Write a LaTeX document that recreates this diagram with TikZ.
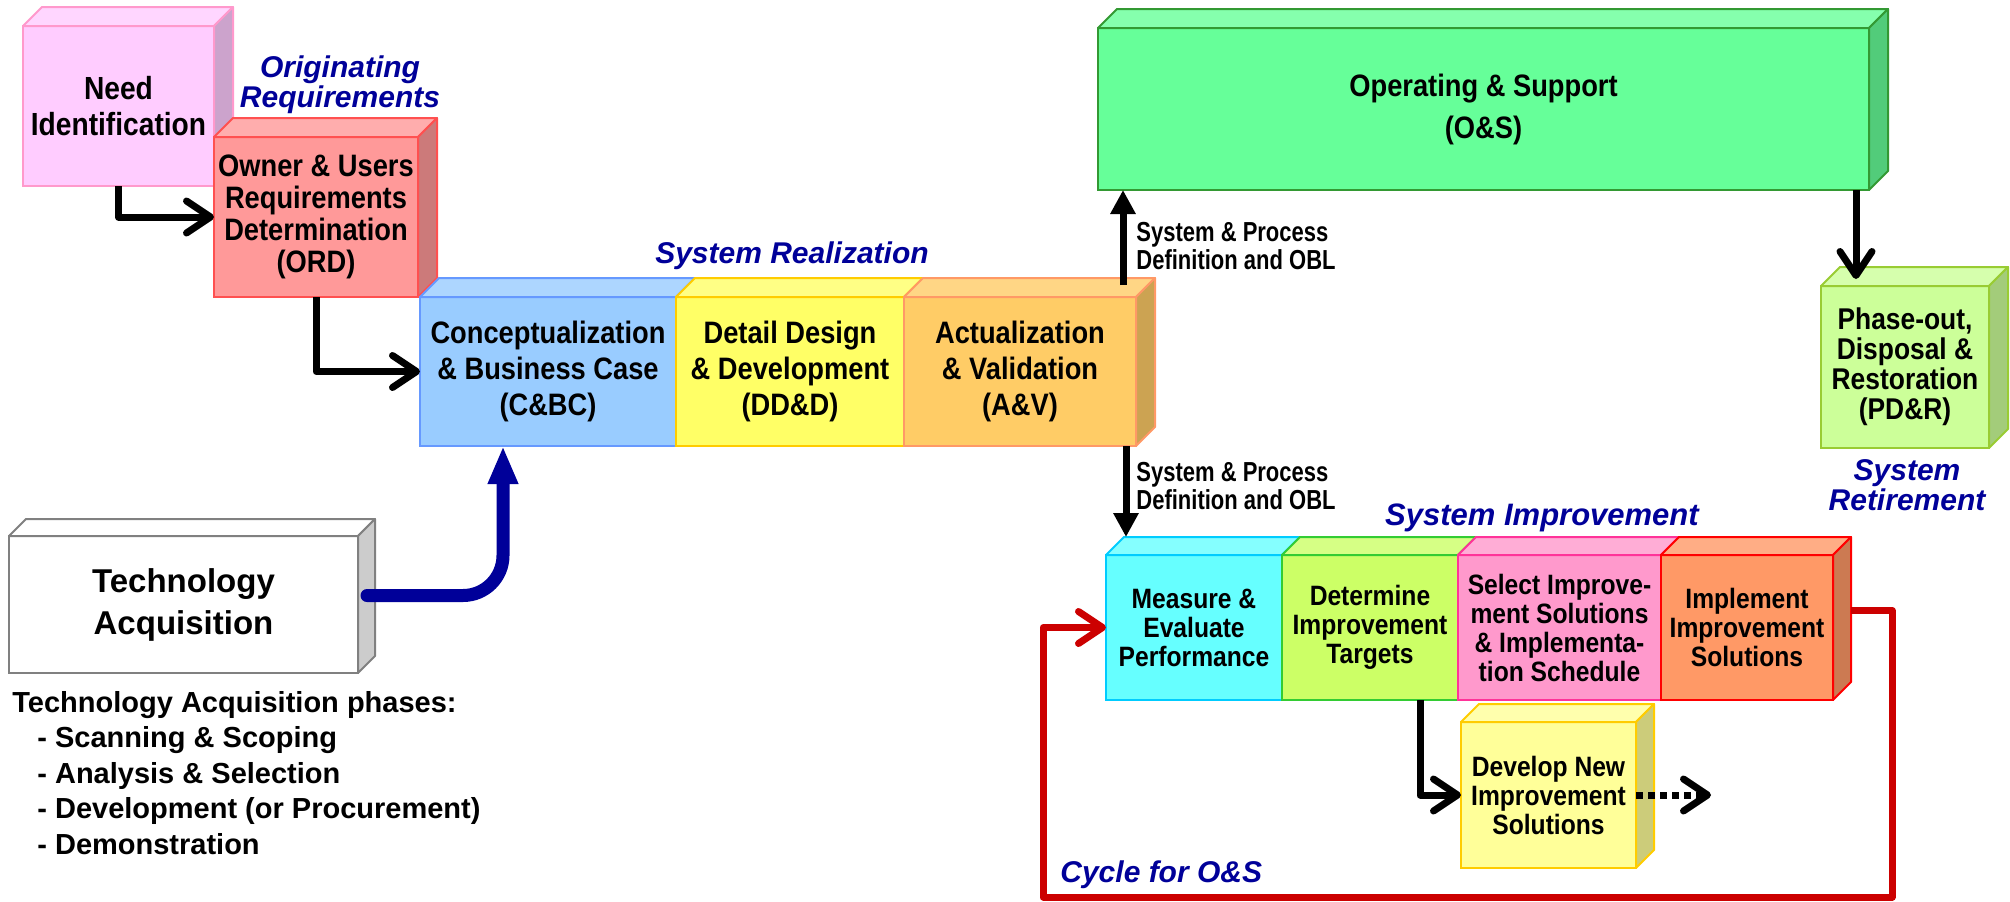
\documentclass[tikz,border=0pt]{standalone}
\usepackage{fontspec}
\setmainfont{Liberation Sans}
\newfontfamily\narrowfont[FakeStretch=0.88]{Liberation Sans}
\newfontfamily\tallfont[FakeStretch=0.8]{Liberation Sans}
\usetikzlibrary{positioning}
\usetikzlibrary{arrows.meta,calc}

\definecolor{needc}{HTML}{FFCCFF}\definecolor{needl}{HTML}{FF99CC}
\definecolor{ordc}{HTML}{FF9999}\definecolor{ordl}{HTML}{FF5050}
\definecolor{cbcc}{HTML}{99CCFF}\definecolor{cbcl}{HTML}{6699FF}
\definecolor{dddc}{HTML}{FFFF66}\definecolor{dddl}{HTML}{FFCC00}
\definecolor{avc}{HTML}{FFCC66}\definecolor{avl}{HTML}{FF9966}
\definecolor{osc}{HTML}{66FF99}\definecolor{osl}{HTML}{339933}
\definecolor{pdrc}{HTML}{CCFF99}\definecolor{pdrl}{HTML}{99CC33}
\definecolor{techc}{HTML}{FFFFFF}\definecolor{techl}{HTML}{808080}
\definecolor{mepc}{HTML}{66FFFF}\definecolor{mepl}{HTML}{00CCFF}
\definecolor{ditc}{HTML}{CCFF66}\definecolor{ditl}{HTML}{33CC33}
\definecolor{sisc}{HTML}{FF99CC}\definecolor{sisl}{HTML}{FF3399}
\definecolor{iisc}{HTML}{FF9966}\definecolor{iisl}{HTML}{FF0000}
\definecolor{dnisc}{HTML}{FFFF99}\definecolor{dnisl}{HTML}{FFCC00}
\definecolor{lblblue}{HTML}{000099}
\definecolor{loopred}{HTML}{CC0000}

% top and side face of a box node: [depth]{node}{fill}{line}
\newcommand\cubefaces[4][19]{%
  \draw[#4, line width=1pt, fill=#3!80!white, line join=round]
    (#2.north west) -- ++(#1,-#1) -- ([shift={(#1,-#1)}]#2.north east) -- (#2.north east) -- cycle;
  \draw[#4, line width=1pt, fill=#3!80!black, line join=round]
    (#2.north east) -- ++(#1,-#1) -- ([shift={(#1,-#1)}]#2.south east) -- (#2.south east) -- cycle;
}

\begin{document}
\begin{tikzpicture}[x=0.5pt,y=-0.5pt,
  cube/.style 2 args={draw=#1, fill=#2, line width=1pt, outer sep=0pt, inner sep=0pt, align=center},
  bigtxt/.style={font=\narrowfont\bfseries\fontsize{15.5}{18}\selectfont},
  smalltxt/.style={font=\narrowfont\bfseries\fontsize{14}{14.5}\selectfont},
  stagelbl/.style={text=lblblue, align=center, inner sep=0pt, font=\bfseries\itshape\fontsize{15}{15}\selectfont},
  flowlbl/.style={align=left, inner sep=0pt, font=\tallfont\bfseries\fontsize{13.75}{14}\selectfont},
  flow/.style={line width=3.5pt, line join=round, -{Straight Barb[length=12pt,width=16pt,round]}},
  feed/.style={line width=3.5pt, -{Triangle[length=12pt,width=12pt]}},
  techflow/.style={line width=6.5pt, draw=lblblue, line cap=round, rounded corners=20pt, -{Triangle[length=19pt,width=14pt]}},
  osloop/.style={line width=3.5pt, draw=loopred, line join=round, -{Straight Barb[length=12pt,width=16pt,round]}}]
\useasboundingbox (0,0) rectangle (2010,901);

% originating requirements
\node[cube={needl}{needc}, minimum width=95.5pt, minimum height=80pt, font=\narrowfont\bfseries\fontsize{16}{18}\selectfont] (need) at (118.5,106) {Need\\Identification};
\cubefaces{need}{needc}{needl}
\node[cube={ordl}{ordc}, minimum width=102pt, minimum height=80pt, font=\narrowfont\bfseries\fontsize{15.5}{16}\selectfont] (ord) at (316,217) {Owner \& Users\\Requirements\\Determination\\(ORD)};
\cubefaces{ord}{ordc}{ordl}

% system realization
\node[cube={cbcl}{cbcc}, minimum width=128pt, minimum height=74.5pt, bigtxt] (cbc) at (548,371.5) {Conceptualization\\\& Business Case\\(C\&BC)};
\cubefaces{cbc}{cbcc}{cbcl}
\node[cube={dddl}{dddc}, minimum width=114pt, minimum height=74.5pt, bigtxt, right=0pt of cbc] (ddd) {Detail Design\\\& Development\\(DD\&D)};
\cubefaces{ddd}{dddc}{dddl}
\node[cube={avl}{avc}, minimum width=116pt, minimum height=74.5pt, bigtxt, right=0pt of ddd] (av) {Actualization\\\& Validation\\(A\&V)};
\cubefaces{av}{avc}{avl}

% operation and retirement
\node[cube={osl}{osc}, minimum width=385.5pt, minimum height=81pt, font=\narrowfont\bfseries\fontsize{15.5}{21}\selectfont] (os) at (1483.5,109) {Operating \& Support\\(O\&S)};
\cubefaces{os}{osc}{osl}
\node[cube={pdrl}{pdrc}, minimum width=84pt, minimum height=81pt, font=\narrowfont\bfseries\fontsize{15}{15}\selectfont] (pdr) at (1905,367) {Phase-out,\\Disposal \&\\Restoration\\(PD\&R)};
\cubefaces{pdr}{pdrc}{pdrl}

% technology acquisition
\node[cube={techl}{techc}, minimum width=174.5pt, minimum height=68.5pt, font=\bfseries\fontsize{16.5}{21}\selectfont] (tech) at (183.5,604.5) {Technology\\Acquisition};
\cubefaces[17]{tech}{techc}{techl}

% system improvement
\node[cube={mepl}{mepc}, minimum width=88pt, minimum height=72.5pt, smalltxt] (mep) at (1194,627.5) {Measure \&\\Evaluate\\Performance};
\cubefaces[18]{mep}{mepc}{mepl}
\node[cube={ditl}{ditc}, minimum width=88pt, minimum height=72.5pt, smalltxt, right=0pt of mep] (dit) {Determine\\Improvement\\Targets};
\cubefaces[18]{dit}{ditc}{ditl}
\node[cube={sisl}{sisc}, minimum width=101.5pt, minimum height=72.5pt, smalltxt, right=0pt of dit] (sis) {Select Improve-\\ment Solutions\\\& Implementa-\\tion Schedule};
\cubefaces[18]{sis}{sisc}{sisl}
\node[cube={iisl}{iisc}, minimum width=86pt, minimum height=72.5pt, smalltxt, right=0pt of sis] (iis) {Implement\\Improvement\\Solutions};
\cubefaces[18]{iis}{iisc}{iisl}
\node[cube={dnisl}{dnisc}, minimum width=87.5pt, minimum height=73pt, smalltxt] (dnis) at (1548.5,795) {Develop New\\Improvement\\Solutions};
\cubefaces[18]{dnis}{dnisc}{dnisl}

% labels
\node[stagelbl] (origreq) at (340,85) {Originating\\Requirements};
\node[stagelbl] (sysreal) at (792,256) {System Realization};
\node[stagelbl, font=\bfseries\itshape\fontsize{15.5}{15.5}\selectfont] (sysimp) at (1542,518) {System Improvement};
\node[stagelbl] (sysret) at (1907,485) {System\\Retirement};
\node[stagelbl, anchor=west] (oscycle) at (1060,875) {Cycle for O\&S};
\node[anchor=north west, align=left, inner sep=0pt, font=\bfseries\fontsize{14.5}{17.75}\selectfont] (taphases) at (12,691)
  {Technology Acquisition phases:\\
   \hspace*{12.5pt}- Scanning \& Scoping\\
   \hspace*{12.5pt}- Analysis \& Selection\\
   \hspace*{12.5pt}- Development (or Procurement)\\
   \hspace*{12.5pt}- Demonstration};

% connectors
\draw[flow] (need.south) |- (ord.west);
\draw[flow] (ord.south) |- (cbc.west);
\draw[techflow] ($(tech.east)+(9,-9)$) -| ([xshift=-22.5pt]cbc.south);

\coordinate (avup) at ([shift={(-13,-12)}]av.north east);
\draw[feed] (avup) -- (avup |- os.south);
\node[flowlbl, anchor=west] (spdup) at (1136,246) {System \& Process\\Definition and OBL};

\coordinate (avdown) at ([shift={(-10,0)}]av.south east);
\coordinate (mtop) at ([shift={(18,-18)}]mep.north west);
\draw[feed] (avdown) -- (avdown |- mtop);
\node[flowlbl, anchor=west] (spddown) at (1136,486) {System \& Process\\Definition and OBL};

\coordinate (osdown) at ([shift={(-13,0)}]os.south east);
\draw[flow] (osdown) -- ($(osdown |- pdr.north)+(0,-7)$);

\draw[flow] ([xshift=25pt]dit.south) |- (dnis.west);
\coordinate (newsol) at ($(dnis.east)+(75,0)$);
\draw[flow, dash pattern=on 3.5pt off 2.5pt] (dnis.east) -- (newsol);

\coordinate (loopstart) at ($(iis.east)+(18,-17)$);
\coordinate (loopright) at (1892,897);
\coordinate (loopleft) at (1043,897);
\draw[osloop] (loopstart) -| (loopright) -- (loopleft) |- (mep.west);
\end{tikzpicture}
\end{document}
